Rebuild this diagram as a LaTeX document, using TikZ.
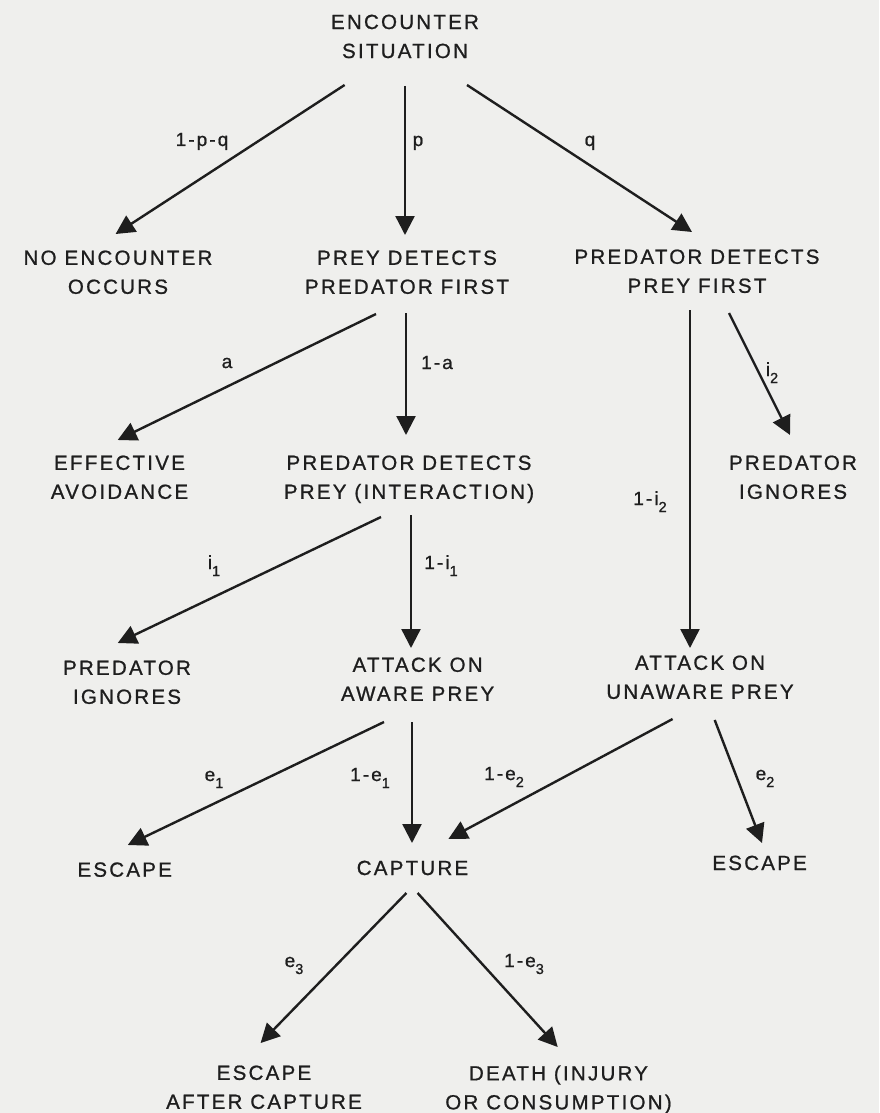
\documentclass[tikz,border=0pt]{standalone}
\usepackage{fontspec}
\newfontfamily\diagfont{Liberation Sans}[LetterSpace=11,FakeBold=0.9]
\usetikzlibrary{arrows.meta}
\definecolor{paper}{RGB}{239,239,237}
\definecolor{ink}{RGB}{30,30,30}
\newcommand{\lowsub}[1]{\raisebox{-7pt}{\fontsize{14.5}{14}\selectfont #1}}
\begin{document}
\begin{tikzpicture}[x=1pt,y=-1pt,
  box/.style={anchor=north,inner sep=0pt,align=center,font=\diagfont\fontsize{20.5}{29}\selectfont,text=ink},
  single/.style={anchor=base,inner sep=0pt,font=\diagfont\fontsize{20.5}{29}\selectfont,text=ink},
  lab/.style={anchor=base,inner sep=0pt,font=\diagfont\fontsize{19}{22}\selectfont,text=ink},
  arr/.style={draw=ink,line width=2.4pt,-{Triangle[length=19pt,width=19pt]}}]
\useasboundingbox (0,0) rectangle (879,1113);
\fill[paper] (0,0) rectangle (879,1113);

% outcome nodes (north = first baseline - cap height)
\node[box] (enc) at (405,14.5) {ENCOUNTER\\SITUATION};
\node[box] (noenc) at (118,250.3) {NO ENCOUNTER\\OCCURS};
\node[box] (preyfirst) at (407,250.3) {PREY DETECTS\\PREDATOR FIRST};
\node[box] (predfirst) at (697,249.3) {PREDATOR DETECTS\\PREY FIRST};
\node[box] (avoid) at (119.5,455.3) {EFFECTIVE\\AVOIDANCE};
\node[box] (interact) at (409,455.3) {PREDATOR DETECTS\\PREY (INTERACTION)};
\node[box] (ign2) at (793,455.3) {PREDATOR\\IGNORES};
\node[box] (ign1) at (127,660.3) {PREDATOR\\IGNORES};
\node[box] (aware) at (417.6,657.3) {ATTACK ON\\AWARE PREY};
\node[box] (unaware) at (700,655.3) {ATTACK ON\\UNAWARE PREY};
\node[single] (esc1) at (124.7,876.7) {ESCAPE};
\node[single] (capture) at (412.5,875) {CAPTURE};
\node[single] (esc2) at (759.6,870) {ESCAPE};
\node[box] (escafter) at (264,1065.3) {ESCAPE\\AFTER CAPTURE};
\node[box] (death) at (558.5,1065.3) {DEATH (INJURY\\OR CONSUMPTION)};

% connector end points
\coordinate (s1) at (344.6,85);  \coordinate (t1) at (115.6,234);
\coordinate (s2) at (405,86);    \coordinate (t2) at (405,235);
\coordinate (s3) at (467,85);    \coordinate (t3) at (692,232);
\coordinate (s4) at (376,314);   \coordinate (t4) at (117.7,440);
\coordinate (s5) at (406,313);   \coordinate (t5) at (406,435);
\coordinate (s6) at (690,310);   \coordinate (t6) at (690,648);
\coordinate (s7) at (729,313);   \coordinate (t7) at (790,435);
\coordinate (s8) at (381,517);   \coordinate (t8) at (117.7,643);
\coordinate (s9) at (411,515);   \coordinate (t9) at (411,648);
\coordinate (s10) at (384,722);  \coordinate (t10) at (127.8,845);
\coordinate (s11) at (412,722);  \coordinate (t11) at (412,843);
\coordinate (s12) at (672.6,719);\coordinate (t12) at (448.4,839);
\coordinate (s13) at (714.7,720);\coordinate (t13) at (762,843);
\coordinate (s14) at (406.4,893);\coordinate (t14) at (260.6,1043);
\coordinate (s15) at (417.6,893);\coordinate (t15) at (557.7,1047);

\draw[arr] (s1) -- (t1);
\draw[arr] (s2) -- (t2);
\draw[arr] (s3) -- (t3);
\draw[arr] (s4) -- (t4);
\draw[arr] (s5) -- (t5);
\draw[arr] (s6) -- (t6);
\draw[arr] (s7) -- (t7);
\draw[arr] (s8) -- (t8);
\draw[arr] (s9) -- (t9);
\draw[arr] (s10) -- (t10);
\draw[arr] (s11) -- (t11);
\draw[arr] (s12) -- (t12);
\draw[arr] (s13) -- (t13);
\draw[arr] (s14) -- (t14);
\draw[arr] (s15) -- (t15);

% connector labels
\node[lab] (l1) at (202,146) {1-p-q};
\node[lab] (l2) at (418,146) {p};
\node[lab] (l3) at (590,146) {q};
\node[lab] (l4) at (227,368) {a};
\node[lab] (l5) at (437,369) {1-a};
\node[lab] (l6) at (650,505) {1-i\lowsub{2}};
\node[lab] (l7) at (772,376) {i\lowsub{2}};
\node[lab] (l8) at (214,569) {i\lowsub{1}};
\node[lab] (l9) at (441,569) {1-i\lowsub{1}};
\node[lab] (l10) at (214,781) {e\lowsub{1}};
\node[lab] (l11) at (370,781) {1-e\lowsub{1}};
\node[lab] (l12) at (504,780) {1-e\lowsub{2}};
\node[lab] (l13) at (765,780) {e\lowsub{2}};
\node[lab] (l14) at (294,967) {e\lowsub{3}};
\node[lab] (l15) at (524,967) {1-e\lowsub{3}};
\end{tikzpicture}
\end{document}
